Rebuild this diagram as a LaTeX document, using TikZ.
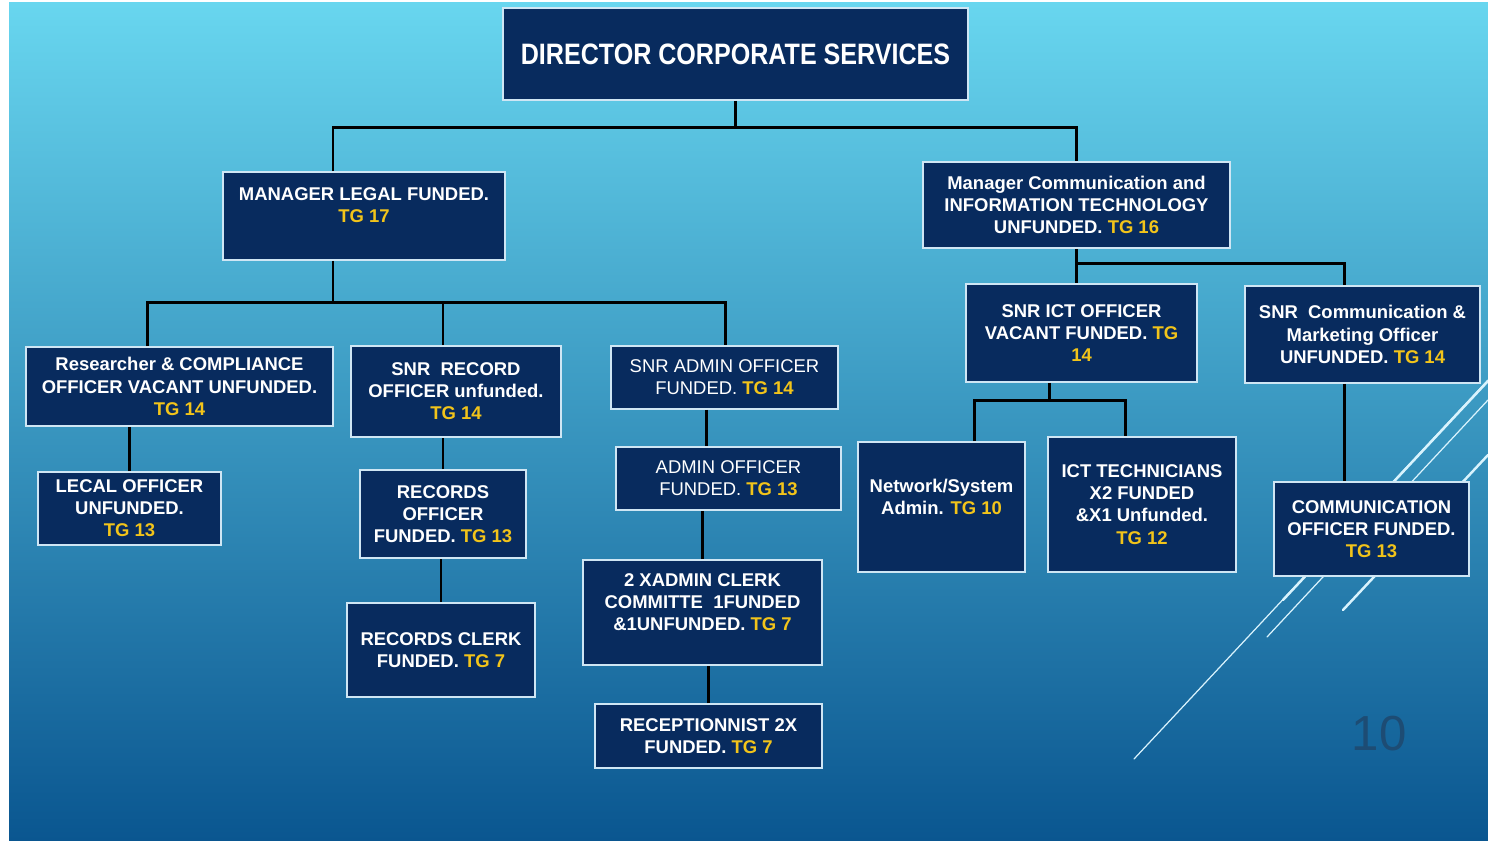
\documentclass[tikz,border=0pt]{standalone}
\usepackage{fontspec}
\setmainfont{Liberation Sans}
\newfontfamily\titlefont[FakeStretch=0.85]{Liberation Sans}
\definecolor{slidetop}{HTML}{68D6EF}
\definecolor{slidemid}{HTML}{2E98CA}
\definecolor{slidebot}{HTML}{0A5690}
\definecolor{navyblue}{HTML}{082B5E}
\definecolor{boxedge}{HTML}{CFE6F4}
\definecolor{tgyellow}{HTML}{F2C41A}
\definecolor{pagegrey}{HTML}{1D4C74}
\newcommand{\tgc}[1]{\textcolor{tgyellow}{\bfseries TG #1}}

\begin{document}
\begin{tikzpicture}[x=0.02cm, y=-0.02cm, font=\bfseries\fontsize{10.5}{12.6}\selectfont,
    box/.style={draw=boxedge, fill=navyblue, line width=1.1pt, text=white, align=center, inner sep=1pt},
    sized/.style 2 args={minimum width=#1*0.02cm, minimum height=#2*0.02cm},
    plain/.style={font=\fontsize{10.5}{12.6}\selectfont},
    liftup/.style={text depth=#1},
    wire/.style={line width=1.7pt, black},
    deco/.style={white!85!cyan, line cap=round}]
  \useasboundingbox (0,0) rectangle (1488,841);
  % Slide
  \fill[white] (0,0) rectangle (1488,841);
  \shade[top color=slidetop, middle color=slidemid, bottom color=slidebot] (9,3) rectangle (1488,841);
  \draw[deco, line width=0.7pt] (1134,759) -- (1488,380);
  \draw[deco, line width=0.7pt] (1267,637) -- (1488,400);
  \draw[deco, line width=1.4pt] (1283,600) -- (1488,381);
  \draw[deco, line width=1.4pt] (1343,610) -- (1488,455);
  \node[text=pagegrey, font=\fontsize{28}{28}\selectfont] (page) at (1379,734) {10};

  % Director
  \node[box, sized={465}{92}, font=\titlefont\bfseries\fontsize{16.8}{20}\selectfont] (dir) at (735.5,54) {DIRECTOR CORPORATE SERVICES};

  % Managers
  \node[box, sized={282}{88}, liftup=12pt] (mlegal) at (364,216) {MANAGER LEGAL FUNDED.\\\tgc{17}};
  \node[box, sized={307}{86}] (mcomm) at (1076.5,205) {Manager Communication and\\INFORMATION TECHNOLOGY\\UNFUNDED. \tgc{16}};

  % Legal side
  \node[box, sized={307}{79}] (res) at (179.5,386.5) {Researcher \& COMPLIANCE\\OFFICER VACANT UNFUNDED.\\\tgc{14}};
  \node[box, sized={183}{73}] (lecal) at (129.5,508.5) {LECAL OFFICER\\UNFUNDED.\\\tgc{13}};
  \node[box, sized={210}{91}] (srec) at (456,391.5) {SNR\ \ RECORD\\OFFICER unfunded.\\\tgc{14}};
  \node[box, sized={166}{88}] (rofficer) at (443,514) {RECORDS\\OFFICER\\FUNDED. \tgc{13}};
  \node[box, sized={188}{94}] (rclerk) at (441,650) {RECORDS CLERK\\FUNDED. \tgc{7}};
  \node[box, plain, sized={227}{63}] (sadmin) at (724.5,377.5) {SNR ADMIN OFFICER\\FUNDED. \tgc{14}};
  \node[box, plain, sized={225}{63}] (aofficer) at (728.5,478.5) {ADMIN OFFICER\\FUNDED. \tgc{13}};
  \node[box, sized={239}{105}, liftup=12pt] (clerk) at (702.5,612.5) {2 XADMIN CLERK\\COMMITTE\ \ 1FUNDED\\\&1UNFUNDED. \tgc{7}};
  \node[box, sized={227}{64}] (recep) at (708.5,736) {RECEPTIONNIST 2X\\FUNDED. \tgc{7}};

  % ICT side
  \node[box, sized={231}{98}] (sict) at (1081.5,333) {SNR ICT OFFICER\\VACANT FUNDED. \textcolor{tgyellow}{TG}\\\textcolor{tgyellow}{14}};
  \node[box, sized={235}{97}] (scomm) at (1362.5,334.5) {SNR\ \ Communication \&\\Marketing Officer\\UNFUNDED. \tgc{14}};
  \node[box, sized={167}{130}, liftup=12pt] (netw) at (941.5,507) {Network/System\\Admin. \tgc{10}};
  \node[box, sized={188}{135}] (icttech) at (1142,504.5) {ICT TECHNICIANS\\X2 FUNDED\\\&X1 Unfunded.\\\tgc{12}};
  \node[box, sized={195}{94}] (cofficer) at (1371.5,529) {COMMUNICATION\\OFFICER FUNDED.\\\tgc{13}};

  % Lines
  \draw[wire] (dir.south) -- ++(0,27) coordinate (j1);
  \draw[wire] ([shift={(-31,0)}]mlegal.north) |- (j1) -| (mcomm.north);
  \draw[wire] ([shift={(-31,0)}]mlegal.south) -- ++(0,42) coordinate (j2);
  \draw[wire] ([shift={(-32,0)}]res.north) |- (j2) -| ([shift={(0.5,0)}]sadmin.north);
  \draw[wire] ([shift={(-13,0)}]srec.north) |- (j2);
  \draw[wire] (lecal.north) -- (lecal.north |- res.south);
  \draw[wire] (rofficer.north) -- (rofficer.north |- srec.south);
  \draw[wire] (rclerk.north) -- (rclerk.north |- rofficer.south);
  \draw[wire] ([shift={(-18,0)}]sadmin.south) -- ([shift={(-22,0)}]aofficer.north);
  \draw[wire] (clerk.north) -- (clerk.north |- aofficer.south);
  \draw[wire] (recep.north) -- (recep.north |- clerk.south);
  \draw[wire] (mcomm.south) -- (mcomm.south |- sict.north);
  \draw[wire] ([shift={(0,15)}]mcomm.south) -| ([shift={(-18,0)}]scomm.north);
  \draw[wire] ([shift={(-32,0)}]sict.south) -- ++(0,18) coordinate (j3);
  \draw[wire] ([shift={(33,0)}]netw.north) |- (j3) -| ([shift={(-17,0)}]icttech.north);
  \draw[wire] ([shift={(-18,0)}]scomm.south) -- ([shift={(-27,0)}]cofficer.north);
\end{tikzpicture}
\end{document}
